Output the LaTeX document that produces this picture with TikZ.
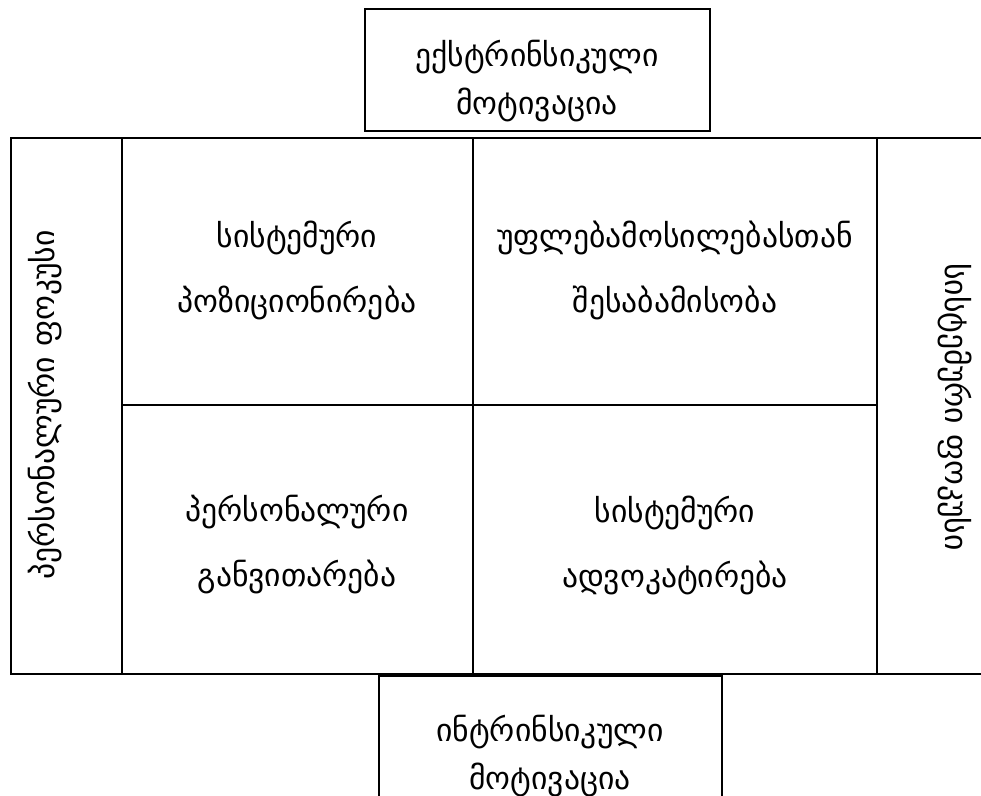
\documentclass[tikz,border=0pt]{standalone}
\usepackage{fontspec}
\setmainfont{DejaVu Sans}
\usetikzlibrary{positioning}

\begin{document}
\begin{tikzpicture}[x=0.02cm, y=-0.02cm,
  frame/.style={line width=1.5pt},
  thinframe/.style={line width=1.2pt},
  boxtext/.style={align=center, inner sep=0pt, font=\fontsize{18}{27}\selectfont},
  celltext/.style={align=center, inner sep=0pt, font=\fontsize{18}{37}\selectfont}]
  \useasboundingbox (0,0) rectangle (981,795);
  \clip (0,0) rectangle (981,795);
  \coordinate (F1) at (11,138);
  \coordinate (F2) at (11,674);
  \coordinate (M) at (473,405);
  % outer frame and grid
  \draw[frame] (981,138) -- (F1) -- (F2) -- (981,674);
  \draw[frame] (122,138) -- (122,674);
  \draw[frame] (473,138) -- (473,674);
  \draw[frame] (877,138) -- (877,674);
  \draw[frame] (122,405) -- (M) -- (877,405);
  % top and bottom boxes
  \draw[thinframe] (365,9) rectangle (710,131);
  \draw[thinframe] (379,800) |- (722,676) -- (722,800);
  \node[boxtext] (extr) at (537,81) {ექსტრინსიკული\\მოტივაცია};
  \node[boxtext] (intr) at (550,756) {ინტრინსიკული\\მოტივაცია};
  \node[celltext] (pos) at (297,270) {სისტემური\\პოზიციონირება};
  \node[celltext] (comp) at (675,270) {უფლებამოსილებასთან\\შესაბამისობა};
  \node[celltext] (dev) at (297,545) {პერსონალური\\განვითარება};
  \node[celltext] (adv) at (675,545) {სისტემური\\ადვოკატირება};
  \node[boxtext, rotate=90] (pfoc) at (45,405) {პერსონალური ფოკუსი};
  \node[boxtext, rotate=-90] (sfoc) at (955,407) {სისტემური ფოკუსი};
\end{tikzpicture}
\end{document}
